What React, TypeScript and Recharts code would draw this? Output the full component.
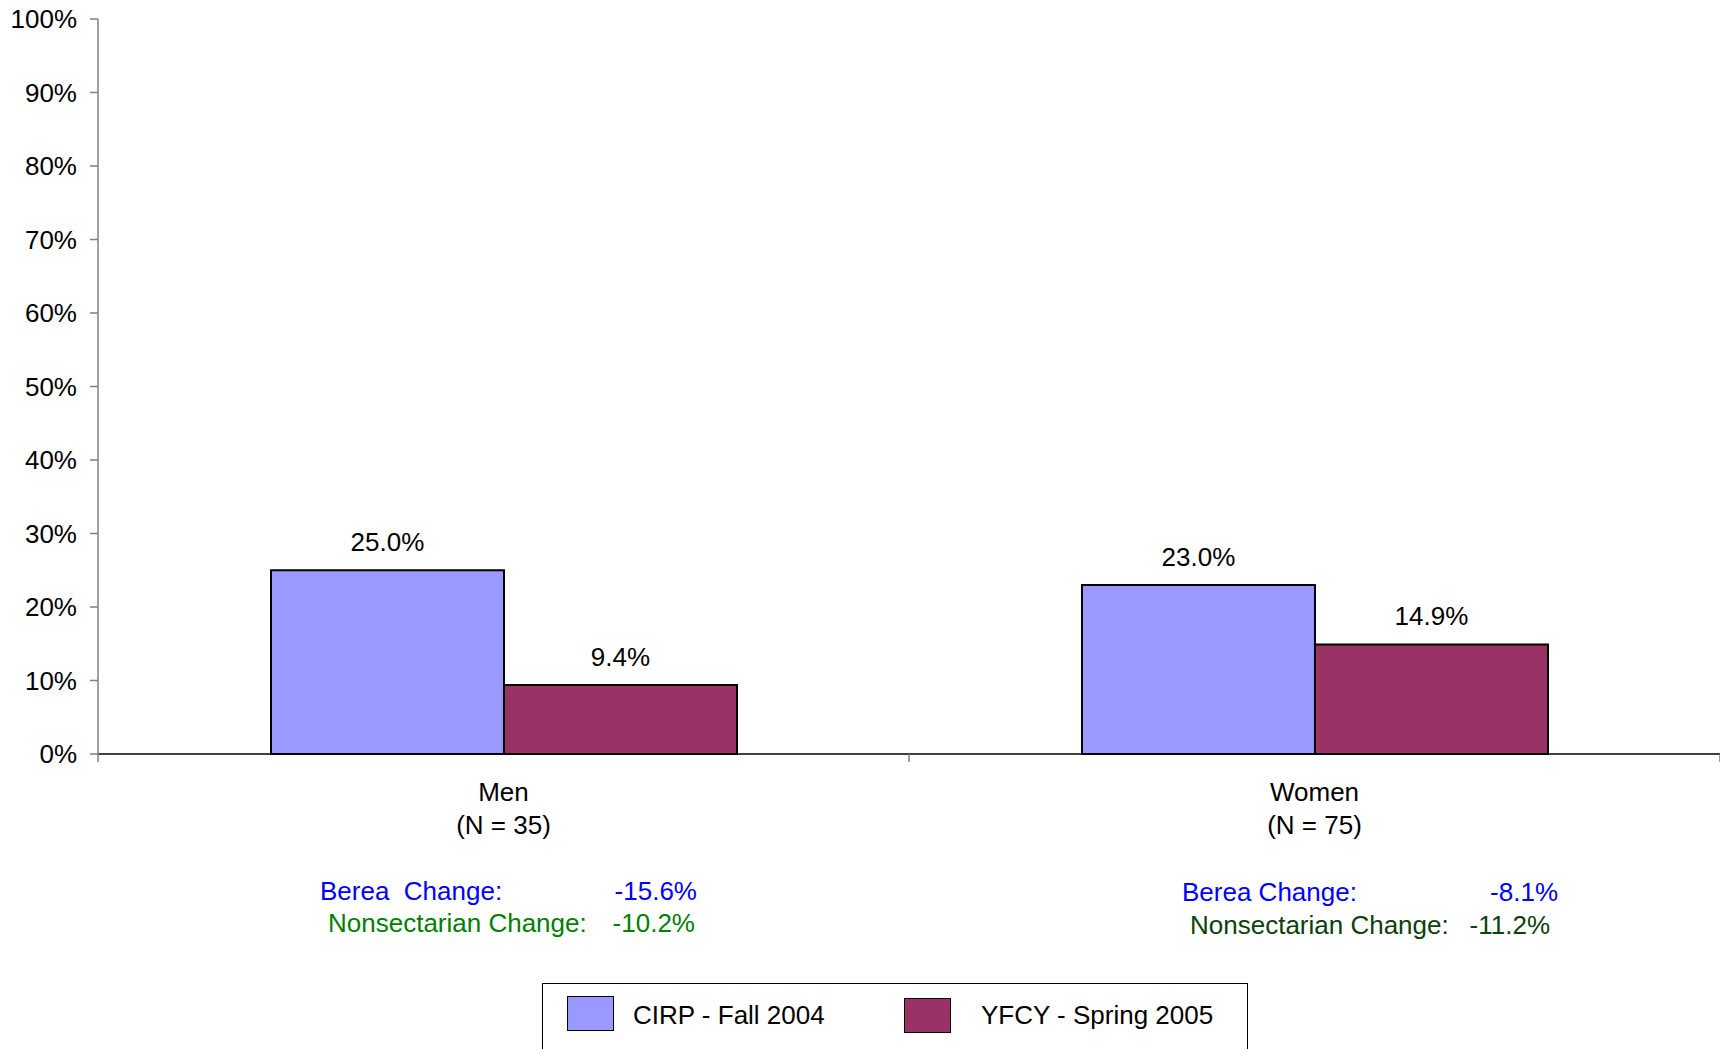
import { Bar, BarChart, LabelList, Legend, XAxis, YAxis } from "recharts";

const categories = ["Men", "Women"];
const groupSizes = [35, 75];
const cirpFall2004 = [25.0, 23.0];
const yfcySpring2005 = [9.4, 14.9];
const bereaLabels = ["Berea  Change:", "Berea Change:"];
const bereaChange = ["-15.6%", "-8.1%"];
const nonsectarianChange = ["-10.2%", "-11.2%"];
const yTicks = [0, 10, 20, 30, 40, 50, 60, 70, 80, 90, 100];

const seriesNames = ["CIRP - Fall 2004", "YFCY - Spring 2005"];

const FONT = '"Liberation Sans", Arial, sans-serif';
const FS = 26;
const BLUE = "#9999FF";
const MAROON = "#993366";
const GREY = "#808080";

// where the change notes sit relative to each category centre
const notePos = [
  { bereaStart: -183.5, bereaEnd: 193.5, nonStart: -175.5, nonEnd: 191.5, by: 146, ny: 178, nonColor: "#008000" },
  { bereaStart: -132.5, bereaEnd: 243.5, nonStart: -124.5, nonEnd: 235.5, by: 147, ny: 180, nonColor: "#0D400D" },
];

const data = categories.map((name, i) => ({
  name,
  cirp: cirpFall2004[i],
  yfcy: yfcySpring2005[i],
}));

const CategoryTick = (props: any) => {
  const { x, y, payload } = props;
  const i = payload.index ?? props.index ?? 0;
  const half = payload.offset || 405.5;
  const p = notePos[i];
  const txt = { fontFamily: FONT, fontSize: FS, whiteSpace: "pre" as const };
  return (
    <g>
      <line x1={x - half} x2={x - half} y1={y} y2={y + 8} stroke={GREY} strokeWidth={1.5} />
      {i === categories.length - 1 && (
        <line x1={x + half} x2={x + half} y1={y} y2={y + 8} stroke={GREY} strokeWidth={1.5} />
      )}
      <text x={x} y={y + 47} textAnchor="middle" fill="#000" style={txt}>
        {payload.value}
      </text>
      <text x={x} y={y + 80} textAnchor="middle" fill="#000" style={txt}>
        {`(N = ${groupSizes[i]})`}
      </text>
      <text x={x + p.bereaStart} y={y + p.by} textAnchor="start" fill="#0000FF" style={txt}>
        {bereaLabels[i]}
      </text>
      <text x={x + p.bereaEnd} y={y + p.by} textAnchor="end" fill="#0000FF" style={txt}>
        {bereaChange[i]}
      </text>
      <text x={x + p.nonStart} y={y + p.ny} textAnchor="start" fill={p.nonColor} style={txt}>
        Nonsectarian Change:
      </text>
      <text x={x + p.nonEnd} y={y + p.ny} textAnchor="end" fill={p.nonColor} style={txt}>
        {nonsectarianChange[i]}
      </text>
    </g>
  );
};

const legendSlots = [
  { sx: 24, sy: 12, tx: 90 },
  { sx: 361, sy: 14, tx: 438 },
];

const LegendBox = (props: any) => {
  const items = props.payload || [];
  return (
    <div
      style={{
        position: "relative",
        width: 706,
        height: 90,
        border: "1.5px solid #000",
        boxSizing: "border-box",
        background: "#fff",
      }}
    >
      {items.map((it: any, i: number) => {
        const s = legendSlots[i];
        return (
          <div key={i}>
            <div
              style={{
                position: "absolute",
                left: s.sx,
                top: s.sy,
                width: 47,
                height: 35,
                background: it.color,
                border: "1.5px solid #000",
                boxSizing: "border-box",
              }}
            />
            <div
              style={{
                position: "absolute",
                left: s.tx,
                top: 16,
                fontFamily: FONT,
                fontSize: FS,
                lineHeight: "30px",
                color: "#000",
                whiteSpace: "pre",
              }}
            >
              {it.value}
            </div>
          </div>
        );
      })}
    </div>
  );
};

export default function App() {
  return (
    <div
      style={{
        position: "absolute",
        left: 0,
        top: 0,
        width: 1720,
        height: 1049,
        overflow: "hidden",
        background: "#fff",
      }}
    >
      <BarChart
        width={1720}
        height={1049}
        data={data}
        margin={{ top: 19, right: 0, left: 0, bottom: 95 }}
        barCategoryGap="21.33%"
        barGap={0}
        style={{ fontFamily: FONT }}
      >
        <XAxis
          dataKey="name"
          height={200}
          interval={0}
          tickLine={false}
          tickSize={0}
          tickMargin={0}
          axisLine={{ stroke: "#000", strokeWidth: 1.5 }}
          tick={<CategoryTick />}
        />
        <YAxis
          width={98}
          domain={[0, 100]}
          ticks={yTicks}
          interval={0}
          tickFormatter={(v: number) => `${v}%`}
          tickSize={8}
          tickMargin={13}
          axisLine={{ stroke: GREY, strokeWidth: 1.5 }}
          tickLine={{ stroke: GREY, strokeWidth: 1.5 }}
          tick={{ fill: "#000", fontSize: FS, fontFamily: FONT }}
        />
        <Legend
          layout="vertical"
          align="center"
          verticalAlign="middle"
          content={<LegendBox />}
          wrapperStyle={{ left: 542, top: 983, width: 706, height: 90 }}
        />
        <Bar dataKey="cirp" name={seriesNames[0]} fill={BLUE} stroke="#000" strokeWidth={2} isAnimationActive={false}>
          <LabelList
            dataKey="cirp"
            position="top"
            offset={19}
            formatter={(v: any) => `${Number(v).toFixed(1)}%`}
            style={{ fill: "#000", fontSize: FS, fontFamily: FONT }}
          />
        </Bar>
        <Bar dataKey="yfcy" name={seriesNames[1]} fill={MAROON} stroke="#000" strokeWidth={2} isAnimationActive={false}>
          <LabelList
            dataKey="yfcy"
            position="top"
            offset={19}
            formatter={(v: any) => `${Number(v).toFixed(1)}%`}
            style={{ fill: "#000", fontSize: FS, fontFamily: FONT }}
          />
        </Bar>
      </BarChart>
    </div>
  );
}
